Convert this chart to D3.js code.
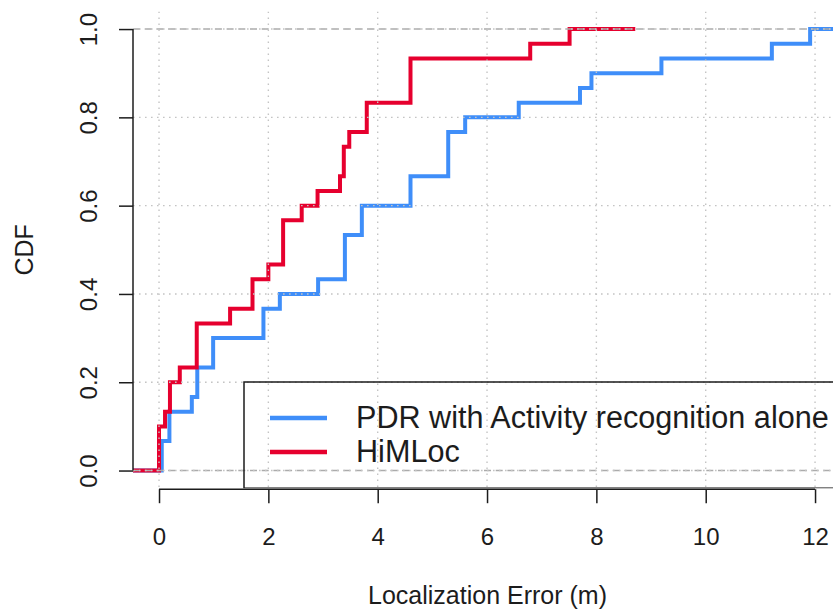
<!DOCTYPE html>
<html>
<head>
<meta charset="utf-8">
<script src="https://cdn.jsdelivr.net/npm/d3@7"></script>
<style>
  html, body { margin: 0; padding: 0; background: #fff; }
  svg { display: block; font-family: "Liberation Sans", Arial, Helvetica, sans-serif; }
</style>
</head>
<body>
<svg id="chart" width="833" height="613"></svg>
<script>
// ---- data (localization errors in metres, read from the ECDF steps) ----
const seriesNames = ["PDR with Activity recognition alone", "HiMLoc"];
const seriesColors = ["#3f8ef9", "#e6002e"];
const pdrErrors = [0.05, 0.05, 0.19, 0.19, 0.60, 0.70, 0.70, 0.99, 0.99, 1.91, 1.91, 2.21, 2.91,
  3.40, 3.40, 3.40, 3.71, 3.71, 4.60, 4.60, 5.29, 5.29, 5.29, 5.60, 6.58, 7.70, 7.91, 9.19, 11.21, 11.91];
const himlocErrors = [0.00, 0.00, 0.00, 0.11, 0.20, 0.20, 0.38, 0.69, 0.69, 0.69, 1.30, 1.71, 1.71,
  2.00, 2.27, 2.27, 2.27, 2.61, 2.90, 3.31, 3.38, 3.38, 3.48, 3.80, 3.80, 4.60, 4.60, 4.60, 6.79, 7.51];
const xTicks = [0, 2, 4, 6, 8, 10, 12];
const yTicks = [0.0, 0.2, 0.4, 0.6, 0.8, 1.0];
const xDomain = [-0.476, 12.376];
const yDomain = [-0.04, 1.04];
const xLabel = "Localization Error (m)";
const yLabel = "CDF";

// ---- layout ----
const svg = d3.select("#chart");
const plot = { left: 133, right: 835.6, top: 11.4, bottom: 488.2 };
const x = d3.scaleLinear().domain(xDomain).range([plot.left, plot.right]);
const y = d3.scaleLinear().domain(yDomain).range([plot.bottom, plot.top]);
const FONT_TICK = 24, FONT_LAB = 25, FONT_LEG = 30.6;
const INK = "#1c1c1c";

svg.append("defs").append("clipPath").attr("id", "clip")
  .append("rect").attr("x", plot.left).attr("y", plot.top)
  .attr("width", plot.right - plot.left).attr("height", plot.bottom - plot.top);

const g = svg.append("g").attr("clip-path", "url(#clip)");

// ECDF step path following R's plot.stepfun extension rule
function ecdfPoints(vals) {
  const s = vals.slice().sort(d3.ascending);
  const n = s.length;
  const knots = Array.from(new Set(s));
  const rx = d3.extent(knots);
  const diffs = d3.pairs(knots).map(([a, b]) => b - a);
  const dr = Math.max(0.08 * (rx[1] - rx[0]), d3.median(diffs));
  const lo = rx[0] - 2 * dr, hi = rx[1] + 2 * dr;
  const pts = [[lo, 0]];
  knots.forEach(k => pts.push([k, d3.bisectRight(s, k) / n]));
  pts.push([hi, 1]);
  return pts;
}
const stepLine = d3.line().x(d => x(d[0])).y(d => y(d[1])).curve(d3.curveStepAfter);

[pdrErrors, himlocErrors].forEach((vals, i) => {
  g.append("path").attr("d", stepLine(ecdfPoints(vals)))
    .attr("fill", "none").attr("stroke", seriesColors[i])
    .attr("stroke-width", 4).attr("stroke-linejoin", "miter").attr("stroke-linecap", "butt");
});

// reference dashed lines at 0 and 1
g.selectAll("line.ref").data([0, 1]).enter().append("line")
  .attr("x1", plot.left).attr("x2", plot.right)
  .attr("y1", d => y(d)).attr("y2", d => y(d))
  .attr("stroke", "#ababab").attr("stroke-width", 1.5).attr("stroke-dasharray", "7 4.7");

// dotted grid
g.selectAll("line.gx").data(xTicks).enter().append("line")
  .attr("x1", d => x(d)).attr("x2", d => x(d))
  .attr("y1", plot.top).attr("y2", plot.bottom)
  .attr("stroke", "#c4c4c4").attr("stroke-width", 1.4).attr("stroke-dasharray", "1.6 4.4");
g.selectAll("line.gy").data(yTicks).enter().append("line")
  .attr("x1", plot.left).attr("x2", plot.right)
  .attr("y1", d => y(d)).attr("y2", d => y(d))
  .attr("stroke", "#c4c4c4").attr("stroke-width", 1.4).attr("stroke-dasharray", "1.6 4.4");

// legend (bottom-right, clipped to plot region)
const legTop = 382;
g.append("rect").attr("x", 244).attr("y", legTop)
  .attr("width", plot.right - 244).attr("height", plot.bottom - legTop)
  .attr("fill", "none").attr("stroke", INK).attr("stroke-width", 1.5);
seriesNames.forEach((name, i) => {
  const ly = 418 + i * 34;
  g.append("line").attr("x1", 270).attr("x2", 327).attr("y1", ly).attr("y2", ly)
    .attr("stroke", seriesColors[i]).attr("stroke-width", 4.5);
  g.append("text").attr("x", 356).attr("y", ly + 10)
    .attr("font-size", FONT_LEG).attr("fill", INK).text(name);
});

// x axis
const xAxis = svg.append("g").attr("transform", `translate(0,${plot.bottom + 1})`)
  .call(d3.axisBottom(x).tickValues(xTicks).tickSize(14).tickPadding(0).tickFormat(d3.format("d")));
xAxis.select(".domain").attr("d", `M${x(xTicks[0])},0H${x(xTicks[xTicks.length - 1])}`)
  .attr("stroke", INK).attr("stroke-width", 1.5);
xAxis.selectAll(".tick line").attr("stroke", INK).attr("stroke-width", 1.5);
xAxis.selectAll(".tick text").attr("y", 56).attr("dy", null)
  .attr("font-size", FONT_TICK).attr("fill", INK).attr("font-family", "Liberation Sans, Arial, sans-serif");

// y axis
const yAxis = svg.append("g").attr("transform", `translate(${plot.left},0)`)
  .call(d3.axisLeft(y).tickValues(yTicks).tickSize(14).tickFormat(d3.format(".1f")));
yAxis.select(".domain").attr("d", `M0,${y(0)}V${y(1)}`)
  .attr("stroke", INK).attr("stroke-width", 1.5);
yAxis.selectAll(".tick line").attr("stroke", INK).attr("stroke-width", 1.5);
yAxis.selectAll(".tick text")
  .attr("x", null).attr("dy", null)
  .attr("transform", "translate(-36,0) rotate(-90)")
  .attr("text-anchor", "middle")
  .attr("font-size", FONT_TICK).attr("fill", INK).attr("font-family", "Liberation Sans, Arial, sans-serif");

// axis titles
svg.append("text").attr("x", 487.5).attr("y", 604)
  .attr("text-anchor", "middle").attr("font-size", FONT_LAB).attr("fill", INK).text(xLabel);
svg.append("text").attr("transform", `translate(33,${(plot.top + plot.bottom) / 2}) rotate(-90)`)
  .attr("text-anchor", "middle").attr("font-size", FONT_LAB).attr("fill", INK).text(yLabel);
</script>
</body>
</html>
